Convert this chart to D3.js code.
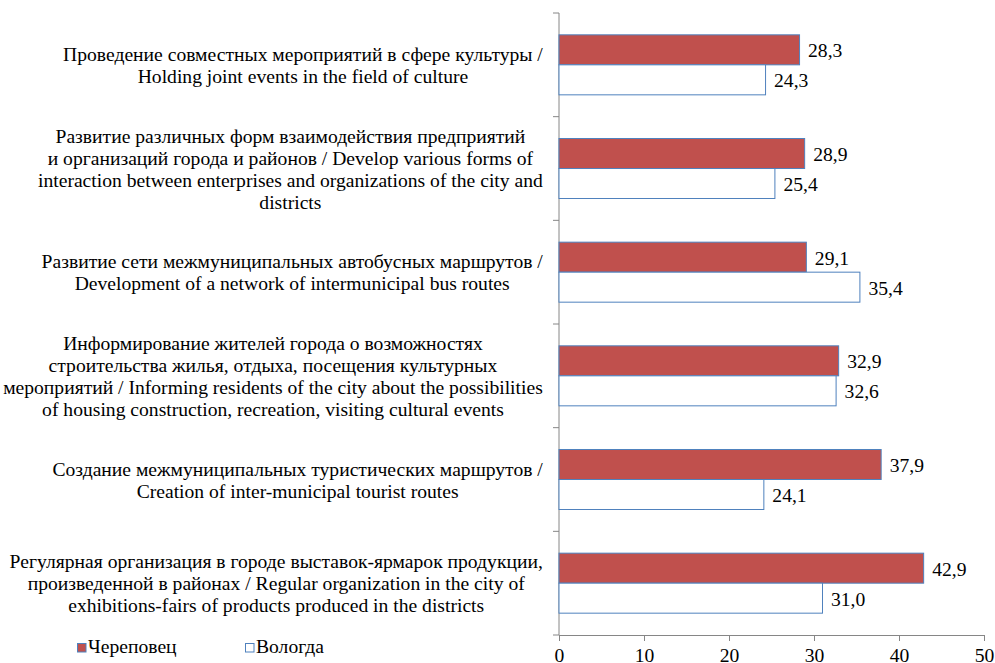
<!DOCTYPE html>
<html>
<head>
<meta charset="utf-8">
<script src="https://cdn.jsdelivr.net/npm/d3@7"></script>
<style>
  body { margin: 0; background: #fff; }
</style>
</head>
<body>
<div id="Chart"></div>
<script>
// categories (each label is a list of wrapped lines, as in the picture)
var categories = [
    ["Проведение совместных мероприятий в сфере культуры /",
     "Holding joint events in the field of culture"],
    ["Развитие различных форм взаимодействия предприятий",
     "и организаций города и районов / Develop various forms of",
     "interaction between enterprises and organizations of the city and",
     "districts"],
    ["Развитие сети межмуниципальных автобусных маршрутов /",
     "Development of a network of intermunicipal bus routes"],
    ["Информирование жителей города о возможностях",
     "строительства жилья, отдыха, посещения культурных",
     "мероприятий / Informing residents of the city about the possibilities",
     "of housing construction, recreation, visiting cultural events"],
    ["Создание межмуниципальных туристических маршрутов /",
     "Creation of inter-municipal tourist routes"],
    ["Регулярная организация в городе выставок-ярмарок продукции,",
     "произведенной в районах / Regular organization in the city of",
     "exhibitions-fairs of products produced in the districts"]
];
var seriesNames = ["Череповец", "Вологда"];
var cherepovets = [28.3, 28.9, 29.1, 32.9, 37.9, 42.9];
var vologda = [24.3, 25.4, 35.4, 32.6, 24.1, 31.0];
var xTicks = [0, 10, 20, 30, 40, 50];

var W = 995, H = 663;
var fontSize = 18;
var sx = 1.09;   // the source picture is a little wider than tall
var font = "Liberation Serif";
var svg = d3.select("#Chart")
            .append("svg")
            .attr("class", "chart")
            .attr("width", W)
            .attr("height", H)
            .attr("font-family", font);

// scales
var x = d3.scaleLinear().domain([0, 50]).range([559, 984]);
var pad = 0.4212;
var y = d3.scaleBand()
          .domain(d3.range(categories.length))
          .range([13, 635])
          .paddingInner(pad)
          .paddingOuter(pad / 2);
var y1 = d3.scaleBand().domain(seriesNames).range([0, y.bandwidth()]);
var step = y.step();

var data = categories.map(function(c, i){
    return {i: i, lines: c, values: [cherepovets[i], vologda[i]]};
});
var fills = {"Череповец": "#C0504D", "Вологда": "#FFFFFF"};
var stroke = "#4F81BD";
var axisColor = "#868686";

function place(px, py){ return "translate(" + px + "," + py + ") scale(" + sx + ",1)"; }

// bottom axis
var xaxis = svg.append("g")
               .attr("class", "axis")
               .attr("transform", "translate(0,635)")
               .call(d3.axisBottom(x).tickValues(xTicks).tickSize(6).tickSizeOuter(6).tickPadding(8).tickFormat(d3.format("d")));
xaxis.attr("font-family", font).attr("font-size", fontSize);
xaxis.select(".domain").attr("stroke", axisColor);
xaxis.selectAll(".tick line").attr("stroke", axisColor);
xaxis.selectAll(".tick text")
     .attr("font-family", font)
     .attr("font-size", fontSize)
     .attr("fill", "#000")
     .attr("transform", "scale(" + sx + ",1)");

// vertical category axis
svg.append("line")
   .attr("x1", x(0)).attr("x2", x(0))
   .attr("y1", 13).attr("y2", 635)
   .attr("stroke", axisColor);
svg.selectAll("line.cattick")
   .data(d3.range(categories.length + 1))
   .enter()
   .append("line")
   .attr("class", "cattick")
   .attr("x1", x(0) - 6).attr("x2", x(0))
   .attr("y1", function(d){ return 13 + d * step; })
   .attr("y2", function(d){ return 13 + d * step; })
   .attr("stroke", axisColor);

// bars
var groups = svg.selectAll("g.cat")
                .data(data)
                .enter()
                .append("g")
                .attr("class", "cat")
                .attr("transform", function(d){ return "translate(0," + y(d.i) + ")"; });

groups.selectAll("rect")
      .data(function(d){ return seriesNames.map(function(s, k){ return {key: s, value: d.values[k]}; }); })
      .enter()
      .append("rect")
      .attr("x", x(0))
      .attr("y", function(d){ return y1(d.key); })
      .attr("width", function(d){ return x(d.value) - x(0); })
      .attr("height", y1.bandwidth())
      .attr("fill", function(d){ return fills[d.key]; })
      .attr("stroke", stroke)
      .attr("stroke-width", 1);

groups.selectAll("text.val")
      .data(function(d){ return seriesNames.map(function(s, k){ return {key: s, value: d.values[k]}; }); })
      .enter()
      .append("text")
      .attr("class", "val")
      .attr("transform", function(d){ return place(x(d.value) + 8.5, y1(d.key) + y1.bandwidth() / 2 + 7.5); })
      .attr("font-family", font)
      .attr("font-size", fontSize)
      .text(function(d){ return d.value.toFixed(1).replace(".", ","); });

// category labels: lines centred inside a block that is right-aligned to the axis
var lh = 22;
var labelRight = 543;
data.forEach(function(d){
    var g = svg.append("g").attr("class", "catlabel");
    var cy = y(d.i) + y.bandwidth() / 2;
    var n = d.lines.length;
    var texts = g.selectAll("text")
                 .data(d.lines)
                 .enter()
                 .append("text")
                 .attr("text-anchor", "middle")
                 .attr("font-family", font)
                 .attr("font-size", fontSize)
                 .text(function(t){ return t; });
    var maxW = 0;
    texts.each(function(){ maxW = Math.max(maxW, this.getComputedTextLength() * sx); });
    texts.attr("transform", function(t, k){
        return place(labelRight - maxW / 2, cy + (k - (n - 1) / 2) * lh + 7);
    });
});

// legend
var legX = [77, 245];
var leg = svg.selectAll("g.legend")
             .data(seriesNames)
             .enter()
             .append("g")
             .attr("class", "legend")
             .attr("transform", function(d, i){ return "translate(" + legX[i] + ",643)"; });
leg.append("rect")
   .attr("x", 0.5).attr("y", 0.5)
   .attr("width", 8.5).attr("height", 8.5)
   .attr("fill", function(d){ return fills[d]; })
   .attr("stroke", stroke);
leg.append("text")
   .attr("transform", place(11, 10))
   .attr("font-family", font)
   .attr("font-size", fontSize)
   .text(function(d){ return d; });
</script>
</body>
</html>
